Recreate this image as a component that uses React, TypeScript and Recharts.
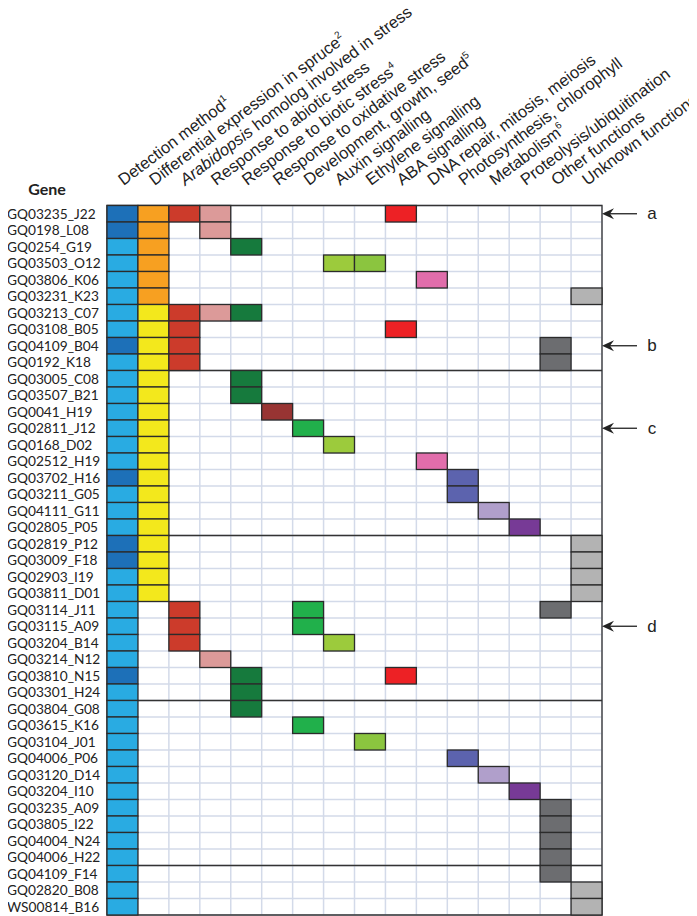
import {
	CartesianGrid,
	ReferenceArea,
	ReferenceLine,
	Scatter,
	ScatterChart,
	XAxis,
	YAxis,
} from 'recharts';

const genes = [
	'GQ03235_J22', 'GQ0198_L08', 'GQ0254_G19', 'GQ03503_O12', 'GQ03806_K06',
	'GQ03231_K23', 'GQ03213_C07', 'GQ03108_B05', 'GQ04109_B04', 'GQ0192_K18',
	'GQ03005_C08', 'GQ03507_B21', 'GQ0041_H19', 'GQ02811_J12', 'GQ0168_D02',
	'GQ02512_H19', 'GQ03702_H16', 'GQ03211_G05', 'GQ04111_G11', 'GQ02805_P05',
	'GQ02819_P12', 'GQ03009_F18', 'GQ02903_I19', 'GQ03811_D01', 'GQ03114_J11',
	'GQ03115_A09', 'GQ03204_B14', 'GQ03214_N12', 'GQ03810_N15', 'GQ03301_H24',
	'GQ03804_G08', 'GQ03615_K16', 'GQ03104_J01', 'GQ04006_P06', 'GQ03120_D14',
	'GQ03204_I10', 'GQ03235_A09', 'GQ03805_I22', 'GQ04004_N24', 'GQ04006_H22',
	'GQ04109_F14', 'GQ02820_B08', 'WS00814_B16',
];

// 2 = dark blue, 1 = light blue
const detectionMethod = [
	2, 2, 1, 1, 1, 1, 1, 1, 2, 1,
	1, 1, 1, 1, 1, 1, 2, 1, 1, 1,
	2, 2, 1, 1, 1, 1, 1, 1, 2, 1,
	1, 1, 1, 1, 1, 1, 1, 1, 1, 1,
	1, 1, 1,
];

// o = orange, y = yellow, '' = empty
const spruceExpression = [
	'o', 'o', 'o', 'o', 'o', 'o', 'y', 'y', 'y', 'y',
	'y', 'y', 'y', 'y', 'y', 'y', 'y', 'y', 'y', 'y',
	'y', 'y', 'y', 'y', '', '', '', '', '', '',
	'', '', '', '', '', '', '', '', '', '',
	'', '', '',
];

// filled function columns per gene
const functionCols = [
	[2, 3, 9], [3], [4], [7, 8], [10], [15], [2, 3, 4], [2, 9], [2, 14], [2, 14],
	[4], [4], [5], [6], [7], [10], [11], [11], [12], [13],
	[15], [15], [15], [15], [2, 6, 14], [2, 6], [2, 7], [3], [4, 9], [4],
	[4], [6], [8], [11], [12], [13], [14], [14], [14], [14],
	[14], [15], [15],
];

const columnLabels = [
	'Detection method',
	'Differential expression in spruce',
	'homolog involved in stress',
	'Response to abiotic stress',
	'Response to biotic stress',
	'Response to oxidative stress',
	'Development, growth, seed',
	'Auxin signalling',
	'Ethylene signalling',
	'ABA signalling',
	'DNA repair, mitosis, meiosis',
	'Photosynthesis, chlorophyll',
	'Metabolism',
	'Proteolysis/ubiquitination',
	'Other functions',
	'Unknown functions',
];
const columnItalic = ['', '', 'Arabidopsis', '', '', '', '', '', '', '', '', '', '', '', '', ''];
const columnNotes = ['1', '2', '3', '', '4', '', '5', '', '', '', '', '', '6', '', '', ''];

const groupBreaks = [10, 20, 30, 40];
const arrowRows = [0, 8, 13, 25];
const arrowLetters = ['a', 'b', 'c', 'd'];

const DETECTION_COLORS: Record<number, string> = { 1: '#29abe2', 2: '#1d70b8' };
const EXPRESSION_COLORS: Record<string, string> = { o: '#f7a021', y: '#f3e81c' };
const FUNCTION_COLORS = [
	'', '', '#cc3b2b', '#dc9a99', '#167a3d', '#983433', '#21b04b', '#9ccb3c',
	'#8bc53f', '#ed2125', '#e16dab', '#5c63ae', '#b09fcb', '#773a96', '#6c6d70', '#b3b3b3',
];

const COLS = columnLabels.length;
const ROWS = genes.length;
const WIDTH = 697;
const HEIGHT = 916;
const LEFT = 107;
const TOP = 205.5;
const RIGHT = 95;
const BOTTOM = 1;
const CELL_W = (WIDTH - LEFT - RIGHT) / COLS;
const CELL_H = (HEIGHT - TOP - BOTTOM) / ROWS;
const HEADER_Y = 186;
const HEADER_ANGLE = -37;

const cells: { x: number; y: number; fill: string }[] = [];
genes.forEach((_, r) => {
	cells.push({ x: 0.5, y: r + 0.5, fill: DETECTION_COLORS[detectionMethod[r]] });
	if (spruceExpression[r]) {
		cells.push({ x: 1.5, y: r + 0.5, fill: EXPRESSION_COLORS[spruceExpression[r]] });
	}
	functionCols[r].forEach((c) => {
		cells.push({ x: c + 0.5, y: r + 0.5, fill: FUNCTION_COLORS[c] });
	});
});

const arrows = arrowRows.map((r, i) => ({ x: COLS, y: r + 0.5, label: arrowLetters[i] }));

const colTicks = columnLabels.map((_, i) => i + 0.5);
const rowTicks = genes.map((_, i) => i + 0.5);

function CellShape(props: any) {
	const { cx, cy, payload } = props;
	return (
		<rect
			x={cx - CELL_W / 2}
			y={cy - CELL_H / 2}
			width={CELL_W}
			height={CELL_H}
			fill={payload.fill}
			stroke="#2b2b2b"
			strokeWidth={1.3}
		/>
	);
}

function ArrowShape(props: any) {
	const { cx, cy, payload } = props;
	return (
		<g>
			<line x1={cx + 6} y1={cy} x2={cx + 35} y2={cy} stroke="#222" strokeWidth={1.3} />
			<path
				d={`M${cx},${cy} L${cx + 12},${cy - 5.5} L${cx + 8},${cy} L${cx + 12},${cy + 5.5} Z`}
				fill="#222"
			/>
			<text
				x={cx + 50}
				y={cy}
				dy="0.32em"
				textAnchor="middle"
				fontFamily="'Liberation Sans', Arial, sans-serif"
				fontSize={17}
				fill="#222"
			>
				{payload.label}
			</text>
		</g>
	);
}

function HeaderTick(props: any) {
	const { x, payload } = props;
	const i = Math.floor(payload.value);
	const tx = x + 1;
	return (
		<text
			x={tx}
			y={HEADER_Y}
			textAnchor="start"
			transform={`rotate(${HEADER_ANGLE} ${tx} ${HEADER_Y})`}
			fontFamily="'Liberation Sans', Arial, sans-serif"
			fontSize={16.5}
			fill="#222"
		>
			{columnItalic[i] ? <tspan fontStyle="italic">{columnItalic[i] + ' '}</tspan> : null}
			<tspan>{columnLabels[i]}</tspan>
			{columnNotes[i] ? (
				<tspan dy={-7} fontSize={10}>
					{columnNotes[i]}
				</tspan>
			) : null}
		</text>
	);
}

function GeneTick(props: any) {
	const { y, payload } = props;
	const i = Math.floor(payload.value);
	return (
		<text
			x={7}
			y={y}
			dy="0.36em"
			textAnchor="start"
			fontFamily="Lato, 'Open Sans', sans-serif"
			fontSize={13.7}
			fill="#222"
		>
			{genes[i]}
		</text>
	);
}

function GeneHeader() {
	return (
		<text
			x={47}
			y={195}
			textAnchor="middle"
			fontFamily="Lato, 'Open Sans', sans-serif"
			fontWeight="bold"
			fontSize={16}
			fill="#222"
		>
			Gene
		</text>
	);
}

export default function App() {
	return (
		<div style={{ margin: '-8px 0 0 -8px', width: WIDTH, height: HEIGHT, background: '#fff' }}>
			<ScatterChart
				width={WIDTH}
				height={HEIGHT}
				margin={{ top: 0, right: RIGHT, bottom: BOTTOM, left: 0 }}
			>
				<CartesianGrid
					stroke="#d3dae9"
					strokeWidth={1.5}
					verticalCoordinatesGenerator={({ offset }: any) =>
						Array.from({ length: COLS + 1 }, (_, i) => offset.left + (i * offset.width) / COLS)
					}
					horizontalCoordinatesGenerator={({ offset }: any) =>
						Array.from({ length: ROWS + 1 }, (_, i) => offset.top + (i * offset.height) / ROWS)
					}
				/>
				<XAxis
					type="number"
					dataKey="x"
					orientation="top"
					domain={[0, COLS]}
					ticks={colTicks}
					interval={0}
					height={TOP}
					axisLine={false}
					tickLine={false}
					tick={(p: any) => <HeaderTick {...p} />}
				/>
				<YAxis
					type="number"
					dataKey="y"
					domain={[0, ROWS]}
					reversed
					ticks={rowTicks}
					interval={0}
					width={LEFT}
					axisLine={false}
					tickLine={false}
					tick={(p: any) => <GeneTick {...p} />}
					label={<GeneHeader />}
				/>
				<Scatter data={cells} shape={(p: any) => <CellShape {...p} />} isAnimationActive={false} />
				{groupBreaks.map((b) => (
					<ReferenceLine key={b} y={b} stroke="#333" strokeWidth={1.3} />
				))}
				<ReferenceArea
					x1={0}
					x2={COLS}
					y1={0}
					y2={ROWS}
					fill="none"
					fillOpacity={0}
					stroke="#333"
					strokeWidth={1.3}
				/>
				<Scatter data={arrows} shape={(p: any) => <ArrowShape {...p} />} isAnimationActive={false} />
			</ScatterChart>
		</div>
	);
}
